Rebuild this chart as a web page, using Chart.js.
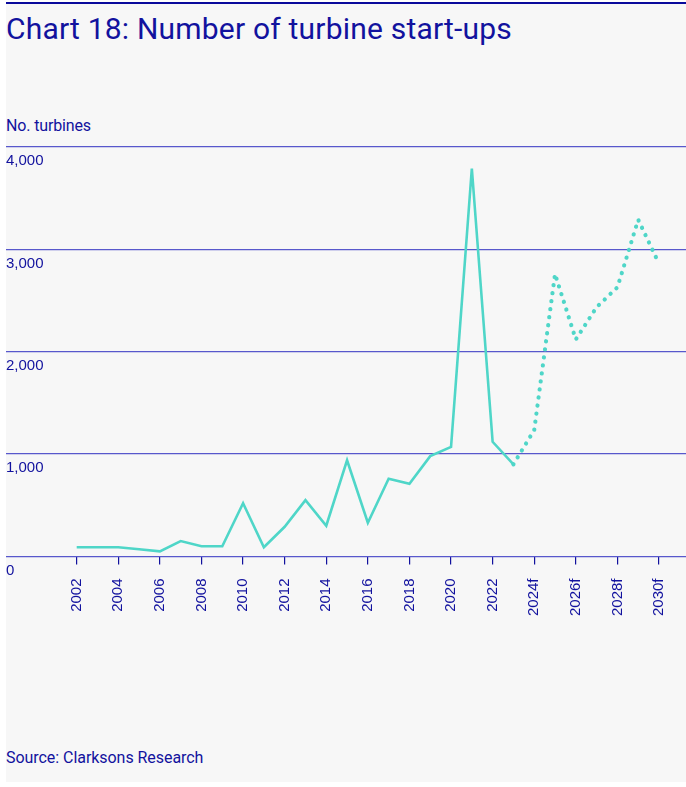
<!DOCTYPE html>
<html>
<head>
<meta charset="utf-8">
<script src="https://cdn.jsdelivr.net/npm/chart.js@4/dist/chart.umd.min.js"></script>
<style>
  html, body { margin: 0; padding: 0; background: #ffffff; width: 686px; height: 787px; overflow: hidden; }
  #panel { position: absolute; left: 6px; top: 2px; width: 680px; height: 780px; background: #f7f7f7; border-top: 2px solid #0a0a9c; box-sizing: border-box; }
  .txt { position: absolute; left: 6px; color: #12129e; font-family: Roboto, "Liberation Sans", sans-serif; white-space: nowrap; }
  #title { top: 11px; font-size: 30px; letter-spacing: 0.2px; }
  #sub { top: 116px; font-size: 16px; letter-spacing: -0.15px; }
  #source { top: 748px; font-size: 16px; letter-spacing: -0.05px; }
  #wrap { position: absolute; left: 6px; top: 135px; width: 685px; height: 515px; }
</style>
</head>
<body>
<div id="panel"></div>
<div class="txt" id="title">Chart 18: Number of turbine start-ups</div>
<div class="txt" id="sub">No. turbines</div>
<div class="txt" id="source">Source: Clarksons Research</div>
<div id="wrap"><canvas id="c"></canvas></div>
<script>
const categories = ['2002','2003','2004','2005','2006','2007','2008','2009','2010','2011','2012','2013','2014','2015','2016','2017','2018','2019','2020','2021','2022','2023','2024f','2025f','2026f','2027f','2028f','2029f','2030f'];
const actual = [90,90,90,70,50,150,100,100,520,90,290,550,300,940,330,760,710,980,1070,3790,1120,900,null,null,null,null,null,null,null];
const forecast = [null,null,null,null,null,null,null,null,null,null,null,null,null,null,null,null,null,null,null,null,null,900,1235,2760,2120,2435,2630,3290,2860];
const yTicks = [0,1000,2000,3000,4000];

const firstYear = parseInt(categories[0]);
const toPoints = arr => arr.map((v,i) => ({x: parseInt(categories[i]), y: v}));
const navy = '#12129e';
const teal = '#4fd6c8';

new Chart(document.getElementById('c'), {
  type: 'line',
  data: {
    datasets: [
      { data: toPoints(actual), borderColor: teal, borderWidth: 2.6, pointRadius: 0, tension: 0, spanGaps: false, fill: false },
      { data: toPoints(forecast), borderColor: teal, borderWidth: 4.2, borderDash: [0.1, 8], borderCapStyle: 'round', pointRadius: 0, tension: 0, fill: false }
    ]
  },
  options: {
    responsive: true,
    maintainAspectRatio: false,
    animation: false,
    layout: { padding: { top: 12, bottom: 20, left: 0, right: 0 } },
    plugins: { legend: { display: false }, tooltip: { enabled: false }, title: { display: false } },
    scales: {
      x: {
        type: 'linear',
        min: 1998.6,
        max: 2031.33,
        afterBuildTicks: axis => { axis.ticks = axis.ticks.filter(t => t.value >= firstYear && (t.value - firstYear) % 2 === 0); },
        ticks: {
          stepSize: 2,
          minRotation: 90, maxRotation: 90,
          autoSkip: false,
          padding: 14,
          color: navy,
          font: { family: '"Liberation Sans", Arial, sans-serif', size: 15 },
          callback: v => categories[v - firstYear] ?? ''
        },
        grid: { drawOnChartArea: false, drawTicks: true, tickLength: 8, color: navy, lineWidth: 1.2 },
        border: { display: false }
      },
      y: {
        min: 0, max: 4000,
        afterBuildTicks: axis => { axis.ticks = yTicks.map(v => ({value: v})); },
        ticks: {
          mirror: true,
          padding: 0,
          labelOffset: 14,
          color: navy,
          font: { family: '"Liberation Sans", Arial, sans-serif', size: 15 },
          callback: v => v.toLocaleString('en-US')
        },
        grid: { drawTicks: false, color: '#5858cc', lineWidth: 1.3 },
        border: { display: false }
      }
    }
  }
});
</script>
</body>
</html>
